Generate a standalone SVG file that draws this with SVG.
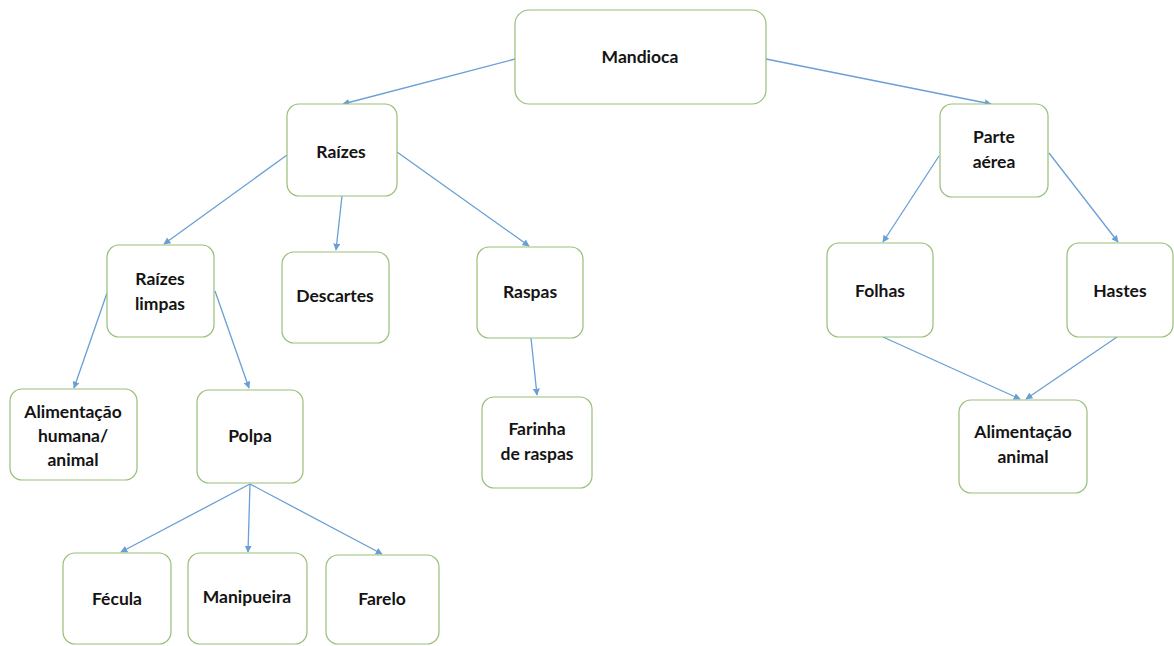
<svg xmlns="http://www.w3.org/2000/svg" width="1174" height="646" viewBox="0 0 1174 646">
<defs>
<style>
.box{fill:#fff;stroke:#98bf78;stroke-width:1.2}
.t{font-family:Lato,"Open Sans","Liberation Sans",sans-serif;font-weight:bold;font-size:17.5px;fill:#141414;text-anchor:middle}
.c{stroke:#6a9fd4;stroke-width:1.3;fill:none;marker-end:url(#ah)}
</style>
<marker id="ah" viewBox="0 0 10 10" refX="9" refY="5" markerWidth="7" markerHeight="7" markerUnits="userSpaceOnUse" orient="auto">
<path d="M0,0 L10,5 L0,10 z" fill="#6a9fd4"/>
</marker>
</defs>
<rect width="1174" height="646" fill="#fff"/>
<g id="connectors">
<line class="c" x1="515" y1="59" x2="343" y2="104"/>
<line class="c" x1="766" y1="59" x2="991" y2="104"/>
<line class="c" x1="287" y1="155" x2="164" y2="244"/>
<line class="c" x1="342" y1="196" x2="336" y2="250"/>
<line class="c" x1="397" y1="152" x2="529" y2="246"/>
<line class="c" x1="107" y1="293" x2="74" y2="388"/>
<line class="c" x1="215" y1="291" x2="249" y2="388"/>
<line class="c" x1="531" y1="338" x2="537" y2="395"/>
<line class="c" x1="250" y1="484" x2="121" y2="552"/>
<line class="c" x1="250" y1="484" x2="248" y2="552"/>
<line class="c" x1="250" y1="484" x2="382" y2="554"/>
<line class="c" x1="939" y1="156" x2="883" y2="242"/>
<line class="c" x1="1049" y1="153" x2="1118" y2="242"/>
<line class="c" x1="883" y1="337" x2="1020" y2="399"/>
<line class="c" x1="1117" y1="337" x2="1026" y2="399"/>
</g>
<g id="mandioca"><rect class="box" x="515" y="10" width="251" height="94" rx="14"/><text class="t" x="640" y="63">Mandioca</text></g>
<g id="raizes"><rect class="box" x="287" y="104" width="110" height="92" rx="12"/><text class="t" x="341" y="158">Raízes</text></g>
<g id="raizes-limpas"><rect class="box" x="107" y="245" width="107" height="92" rx="12"/><text class="t" x="160" y="285">Raízes</text><text class="t" x="160" y="310">limpas</text></g>
<g id="descartes"><rect class="box" x="282" y="252" width="107" height="91" rx="12"/><text class="t" x="335" y="302">Descartes</text></g>
<g id="raspas"><rect class="box" x="477" y="247" width="106" height="91" rx="12"/><text class="t" x="530" y="298">Raspas</text></g>
<g id="farinha"><rect class="box" x="482" y="397" width="110" height="91" rx="12"/><text class="t" x="537" y="435">Farinha</text><text class="t" x="537" y="460">de raspas</text></g>
<g id="alim-humana"><rect class="box" x="10" y="389" width="127" height="91" rx="12"/><text class="t" x="73" y="418">Alimentação</text><text class="t" x="73" y="442">humana/</text><text class="t" x="73" y="466">animal</text></g>
<g id="polpa"><rect class="box" x="197" y="390" width="106" height="93" rx="12"/><text class="t" x="250" y="442">Polpa</text></g>
<g id="fecula"><rect class="box" x="63" y="553" width="108" height="91" rx="12"/><text class="t" x="117" y="605">Fécula</text></g>
<g id="manipueira"><rect class="box" x="188" y="553" width="119" height="91" rx="12"/><text class="t" x="247" y="603">Manipueira</text></g>
<g id="farelo"><rect class="box" x="326" y="555" width="113" height="89" rx="12"/><text class="t" x="382" y="605">Farelo</text></g>
<g id="parte-aerea"><rect class="box" x="940" y="104" width="108" height="93" rx="12"/><text class="t" x="994" y="143">Parte</text><text class="t" x="994" y="168">aérea</text></g>
<g id="folhas"><rect class="box" x="827" y="243" width="106" height="94" rx="12"/><text class="t" x="880" y="297">Folhas</text></g>
<g id="hastes"><rect class="box" x="1067" y="243" width="106" height="94" rx="12"/><text class="t" x="1120" y="297">Hastes</text></g>
<g id="alim-animal"><rect class="box" x="959" y="400" width="128" height="93" rx="12"/><text class="t" x="1023" y="438">Alimentação</text><text class="t" x="1023" y="463">animal</text></g>
</svg>
